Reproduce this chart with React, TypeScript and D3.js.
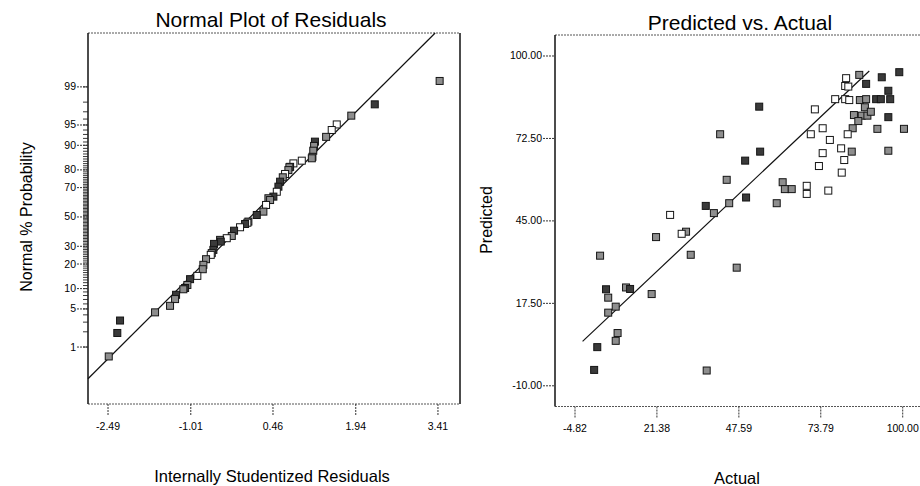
import React from 'react'
import * as d3 from 'd3'

// Normal plot of residuals: [internally studentized residual, normal % probability, shade]
const residualPoints: [number, number, string][] = [
  [3.44, 99.25, 'm'], [2.28, 97.8, 'd'], [1.86, 96.5, 'm'], [1.6, 95.1, 'w'],
  [1.51, 94.0, 'w'], [1.41, 92.4, 'm'], [1.21, 91.1, 'd'], [1.195, 89.8, 'm'],
  [1.18, 88.2, 'm'], [1.165, 85.9, 'm'], [1.154, 85.3, 'm'], [0.975, 84.3, 'w'],
  [0.825, 83.1, 'w'], [0.766, 81.5, 'd'], [0.753, 81.3, 'm'], [0.735, 79.9, 'm'],
  [0.676, 77.9, 'w'], [0.635, 76.1, 'm'], [0.587, 73.6, 'd'], [0.557, 70.6, 'd'],
  [0.528, 67.4, 'w'], [0.467, 64.2, 'd'], [0.378, 63.1, 'm'], [0.408, 61.9, 'm'],
  [0.336, 58.5, 'w'], [0.288, 53.8, 'm'], [0.17, 51.4, 'd'], [0.02, 46.7, 'm'],
  [0.002, 45.9, 'w'], [-0.039, 45.0, 'd'], [-0.129, 42.7, 'w'], [-0.236, 40.3, 'd'],
  [-0.277, 36.7, 'm'], [-0.367, 35.2, 'w'], [-0.486, 34.1, 'm'], [-0.474, 33.0, 'd'],
  [-0.594, 31.5, 'd'], [-0.606, 27.8, 'd'], [-0.635, 25.9, 'm'], [-0.653, 24.9, 'w'],
  [-0.737, 22.5, 'm'], [-0.785, 19.6, 'm'], [-0.796, 17.5, 'm'], [-0.893, 14.6, 'w'],
  [-1.023, 13.3, 'd'], [-1.071, 11.2, 'm'], [-1.112, 10.2, 'd'], [-1.143, 9.8, 'm'],
  [-1.273, 8.2, 'd'], [-1.291, 7.1, 'm'], [-1.381, 5.6, 'm'], [-1.649, 4.4, 'm'],
  [-2.275, 3.2, 'd'], [-2.324, 1.9, 'd'], [-2.477, 0.63, 'm'],
]
const residualLine: [number, number][] = [[-2.848, 0.19], [3.36, 99.95]]
const residualTicks = [-2.49, -1.01, 0.46, 1.94, 3.41]
const probTicks = [1, 5, 10, 20, 30, 50, 70, 80, 90, 95, 99]
const probMinor = d3.range(1, 100)

// Predicted vs actual: [actual, predicted, shade]
const actualPoints: [number, number, string][] = [
  [98.9, 94.6, 'd'], [93.3, 92.9, 'd'], [86.1, 93.7, 'm'], [81.9, 92.6, 'w'],
  [81.6, 90.0, 'w'], [82.6, 89.8, 'w'], [88.3, 90.7, 'd'], [95.4, 88.4, 'd'],
  [78.4, 85.6, 'w'], [81.6, 85.6, 'w'], [82.9, 85.3, 'w'], [86.3, 85.3, 'm'],
  [88.3, 85.6, 'm'], [91.5, 85.6, 'd'], [93.0, 85.6, 'd'], [96.0, 85.6, 'd'],
  [71.9, 82.2, 'w'], [54.1, 83.1, 'd'], [87.9, 82.9, 'm'], [84.4, 80.3, 'm'],
  [86.9, 80.1, 'm'], [88.7, 80.1, 'm'], [89.8, 81.4, 'm'], [85.8, 78.3, 'm'],
  [95.4, 79.6, 'd'], [84.0, 75.9, 'm'], [74.4, 75.9, 'w'], [91.9, 75.7, 'm'],
  [100.4, 75.7, 'm'], [70.6, 73.9, 'w'], [82.4, 73.9, 'w'], [41.6, 73.9, 'm'],
  [76.7, 72.0, 'w'], [80.3, 69.2, 'w'], [83.7, 68.1, 'm'], [95.4, 68.4, 'm'],
  [54.4, 68.1, 'd'], [74.4, 67.6, 'w'], [81.3, 65.3, 'w'], [49.6, 65.1, 'd'],
  [73.2, 63.3, 'w'], [80.5, 61.1, 'w'], [43.7, 58.7, 'm'], [61.6, 57.9, 'm'],
  [62.3, 55.6, 'm'], [64.5, 55.6, 'm'], [69.3, 56.7, 'w'], [69.3, 54.0, 'w'],
  [76.2, 55.1, 'w'], [49.9, 52.8, 'd'], [44.5, 50.9, 'm'], [37.0, 50.0, 'd'],
  [59.7, 50.9, 'm'], [39.6, 47.6, 'm'], [25.6, 47.0, 'w'], [30.7, 41.4, 'm'],
  [29.3, 40.7, 'w'], [21.1, 39.6, 'm'], [32.2, 33.7, 'm'], [3.2, 33.4, 'm'],
  [46.9, 29.4, 'm'], [5.1, 22.2, 'd'], [11.5, 22.8, 'm'], [12.8, 22.3, 'd'],
  [5.8, 19.4, 'm'], [19.7, 20.6, 'm'], [8.2, 16.4, 'm'], [5.8, 14.4, 'm'],
  [8.8, 7.6, 'm'], [8.2, 5.0, 'm'], [2.3, 2.9, 'd'], [1.3, -4.7, 'd'],
  [37.3, -4.9, 'm'],
]
const actualLine: [number, number][] = [[-2.4, 4.8], [89.3, 95.0]]
const actualTicks = [-4.82, 21.38, 47.59, 73.79, 100.0]
const predictedTicks = [-10, 17.5, 45, 72.5, 100]

const FONT = '"Liberation Sans", Arial, sans-serif'
const shadeFill: Record<string, string> = { d: '#3a3a3a', m: '#8e8e8e', w: '#ffffff' }

// inverse normal CDF (Acklam), used for the probability axis
function probit(p: number): number {
  const a = [-39.69683028665376, 220.9460984245205, -275.9285104469687, 138.357751867269, -30.66479806614716, 2.506628277459239]
  const b = [-54.47609879822406, 161.5858368580409, -155.6989798598866, 66.80131188771972, -13.28068155288572]
  const c = [-0.007784894002430293, -0.3223964580411365, -2.400758277161838, -2.549732539343734, 4.374664141464968, 2.938163982698783]
  const d = [0.007784695709041462, 0.3224671290700398, 2.445134137142996, 3.754408661907416]
  const pl = 0.02425
  if (p < pl) {
    const q = Math.sqrt(-2 * Math.log(p))
    return (((((c[0] * q + c[1]) * q + c[2]) * q + c[3]) * q + c[4]) * q + c[5]) / ((((d[0] * q + d[1]) * q + d[2]) * q + d[3]) * q + 1)
  }
  if (p > 1 - pl) {
    const q = Math.sqrt(-2 * Math.log(1 - p))
    return -(((((c[0] * q + c[1]) * q + c[2]) * q + c[3]) * q + c[4]) * q + c[5]) / ((((d[0] * q + d[1]) * q + d[2]) * q + d[3]) * q + 1)
  }
  const q = p - 0.5
  const r = q * q
  return (((((a[0] * r + a[1]) * r + a[2]) * r + a[3]) * r + a[4]) * r + a[5]) * q / (((((b[0] * r + b[1]) * r + b[2]) * r + b[3]) * r + b[4]) * r + 1)
}

function Marker({ x, y, shade }: { x: number; y: number; shade: string }) {
  return (
    <rect x={x - 3.5} y={y - 3.5} width={7} height={7}
      fill={shadeFill[shade]} stroke="#151515" strokeWidth={1} />
  )
}

function Frame({ x0, x1, y0, y1 }: { x0: number; x1: number; y0: number; y1: number }) {
  return (
    <g>
      <line x1={x0} x2={x1} y1={y0} y2={y0} stroke="#555" strokeDasharray="2 1" />
      <line x1={x0} x2={x1} y1={y1} y2={y1} stroke="#555" strokeDasharray="2 1" />
      <line x1={x0} x2={x0} y1={y0} y2={y1} stroke="#111" strokeWidth={1.5} />
      <line x1={x1} x2={x1} y1={y0} y2={y1} stroke="#111" strokeWidth={1.5} />
    </g>
  )
}

function NormalPlot() {
  const left = 88, right = 460, top = 33, bottom = 404
  const x = d3.scaleLinear().domain([-2.848, 3.804]).range([left, right])
  const z = d3.scaleLinear().domain([-3.345, 3.29]).range([bottom, top])
  const y = (p: number) => z(probit(p / 100))
  return (
    <g fontFamily={FONT}>
      <text x={271} y={27} fontSize={21} textAnchor="middle">Normal Plot of Residuals</text>
      <Frame x0={left} x1={right} y0={top} y1={bottom} />
      {probMinor.map(p => (
        <line key={'m' + p} x1={left - 5} x2={left} y1={y(p)} y2={y(p)} stroke="#222" strokeWidth={0.9} />
      ))}
      {probTicks.map(p => (
        <g key={p}>
          <line x1={left - 11} x2={left} y1={y(p)} y2={y(p)} stroke="#333" strokeDasharray="2 1" />
          <text x={left - 12} y={y(p) + 3.5} fontSize={10.5} textAnchor="end">{p}</text>
        </g>
      ))}
      {residualTicks.map(t => (
        <g key={t}>
          <line x1={x(t)} x2={x(t)} y1={bottom} y2={bottom + 12} stroke="#333" strokeDasharray="2 1" />
          <text x={x(t)} y={430} fontSize={10.5} textAnchor="middle">{t.toFixed(2)}</text>
        </g>
      ))}
      <line x1={x(residualLine[0][0])} y1={y(residualLine[0][1])}
        x2={x(residualLine[1][0])} y2={y(residualLine[1][1])} stroke="#111" strokeWidth={1.2} />
      {residualPoints.map((d, i) => (
        <Marker key={i} x={x(d[0])} y={y(d[1])} shade={d[2]} />
      ))}
      <text x={272} y={482} fontSize={16.5} textAnchor="middle">Internally  Studentized  Residuals</text>
      <text transform="translate(32,217) rotate(-90)" fontSize={16} textAnchor="middle">Normal % Probability</text>
    </g>
  )
}

function ActualPlot() {
  const left = 555, right = 922, top = 35, bottom = 406.5
  const x = d3.scaleLinear().domain([-11.22, 106.17]).range([left, right])
  const y = d3.scaleLinear().domain([-16.9, 107]).range([bottom, top])
  return (
    <g fontFamily={FONT}>
      <text x={740} y={30} fontSize={21} textAnchor="middle">Predicted vs. Actual</text>
      <Frame x0={left} x1={right} y0={top} y1={bottom} />
      {predictedTicks.map(t => (
        <g key={t}>
          <line x1={left - 12} x2={left} y1={y(t)} y2={y(t)} stroke="#333" strokeDasharray="2 1" />
          <text x={left - 13} y={y(t) + 3.5} fontSize={10.5} textAnchor="end">{t.toFixed(2)}</text>
        </g>
      ))}
      {actualTicks.map(t => (
        <g key={t}>
          <line x1={x(t)} x2={x(t)} y1={bottom} y2={bottom + 12} stroke="#333" strokeDasharray="2 1" />
          <text x={x(t)} y={432} fontSize={10.5} textAnchor="middle">{t.toFixed(2)}</text>
        </g>
      ))}
      <line x1={x(actualLine[0][0])} y1={y(actualLine[0][1])}
        x2={x(actualLine[1][0])} y2={y(actualLine[1][1])} stroke="#111" strokeWidth={1.2} />
      {actualPoints.map((d, i) => (
        <Marker key={i} x={x(d[0])} y={y(d[1])} shade={d[2]} />
      ))}
      <text x={737} y={484} fontSize={16.5} textAnchor="middle">Actual</text>
      <text transform="translate(492,220) rotate(-90)" fontSize={16} textAnchor="middle">Predicted</text>
    </g>
  )
}

export default function App() {
  return (
    <svg width={920} height={486} style={{ position: 'absolute', left: 0, top: 0, display: 'block', background: '#fff' }}>
      <rect width={920} height={486} fill="#fff" />
      <NormalPlot />
      <ActualPlot />
    </svg>
  )
}
